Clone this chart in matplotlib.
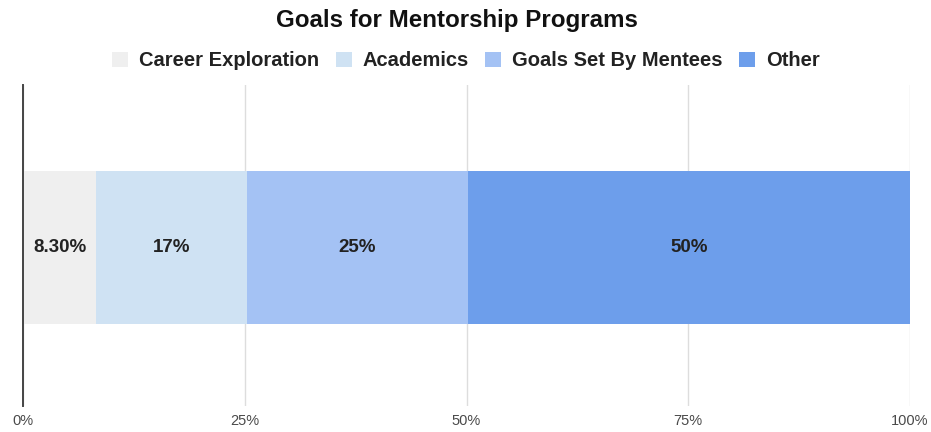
import matplotlib
matplotlib.use("Agg")
import matplotlib.pyplot as plt
from matplotlib.patches import Patch

plt.rcParams['font.family'] = ['Liberation Sans', 'DejaVu Sans']

categories = ["Career Exploration", "Academics", "Goals Set By Mentees", "Other"]
values = [8.3, 17, 25, 50]
value_labels = ["8.30%", "17%", "25%", "50%"]
colors = ["#efefef", "#cfe2f3", "#a4c2f4", "#6d9eeb"]
tick_values = [0, 25, 50, 75, 100]
tick_labels = ["0%", "25%", "50%", "75%", "100%"]

fig = plt.figure(figsize=(9.31, 4.32), dpi=100)
ax = fig.add_axes([23 / 931, 1 - 406 / 432, (910 - 23) / 931, (406 - 85) / 432])

total = sum(values)
left = 0.0
for cat, v, lab, c in zip(categories, values, value_labels, colors):
    w = v / total * 100
    ax.barh(0, w, left=left, height=0.477, color=c, label=cat, zorder=2)
    ax.text(left + w / 2, 0, lab, ha="center", va="center",
            fontsize=13.5, fontweight="bold", color="#222222", zorder=3)
    left += w

ax.set_xlim(0, 100)
ax.set_ylim(-0.494, 0.506)
ax.set_yticks([])
ax.set_xticks(tick_values)
ax.set_xticklabels(tick_labels, fontsize=10.5, color="#4a4a4a")
ax.tick_params(axis="x", length=0, pad=6)
ax.grid(axis="x", color="#dddddd", linewidth=1, zorder=0)
for s in ["top", "right", "bottom"]:
    ax.spines[s].set_visible(False)
ax.spines["left"].set_color("#444444")
ax.spines["left"].set_linewidth(1.4)
ax.spines["left"].set_zorder(4)

fig.text(457 / 931, 1 - 20 / 432, "Goals for Mentorship Programs", ha="center", va="center",
         fontsize=17.4, fontweight="bold", color="#111111")

handles = [Patch(facecolor=c, edgecolor="none") for c in colors]
fig.legend(handles, categories, loc="center", bbox_to_anchor=(466 / 931, 1 - 61 / 432),
           ncol=4, frameon=False, prop={"size": 14.5, "weight": "bold"},
           handlelength=0.8, handleheight=0.8, handletextpad=0.55, columnspacing=0.8,
           labelcolor="#222222")

fig.savefig("out.png", dpi=100, facecolor="white")
